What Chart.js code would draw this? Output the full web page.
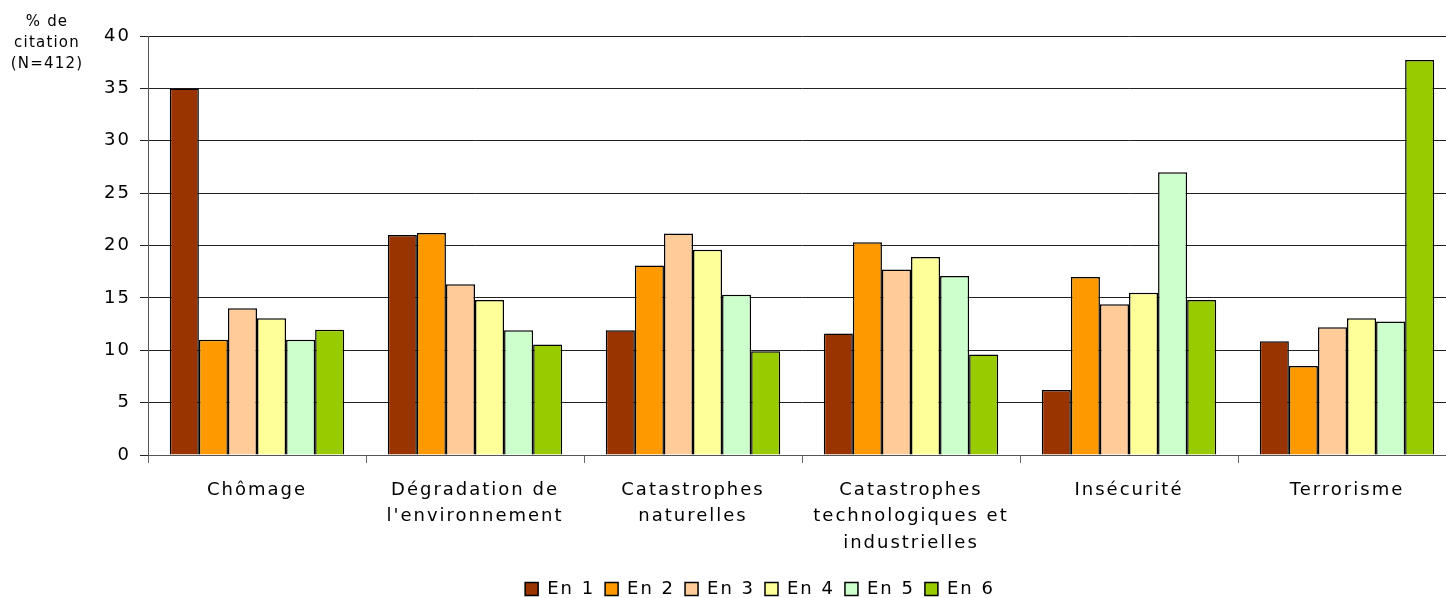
<!DOCTYPE html>
<html>
<head>
<meta charset="utf-8">
<script src="https://cdn.jsdelivr.net/npm/chart.js@4"></script>
<style>
  html, body { margin: 0; padding: 0; background: #fff; overflow: hidden; }
  #wrap { width: 1446px; height: 598px; overflow: hidden; }
</style>
</head>
<body>
<div id="wrap"><canvas id="myChart" width="1456" height="598"></canvas></div>
<script>
// Categories (multi-line labels)
const categories = [
    ['Chômage'],
    ['Dégradation de', "l'environnement"],
    ['Catastrophes', 'naturelles'],
    ['Catastrophes', 'technologiques et', 'industrielles'],
    ['Insécurité'],
    ['Terrorisme']
];

const seriesNames = ['En 1', 'En 2', 'En 3', 'En 4', 'En 5', 'En 6'];

// values per rank, one array per series (order of categories)
const en1 = [35, 21, 11.9, 11.6, 6.2, 10.85];
const en2 = [11, 21.2, 18.1, 20.3, 17, 8.5];
const en3 = [14, 16.3, 21.15, 17.7, 14.4, 12.2];
const en4 = [13.05, 14.8, 19.6, 18.9, 15.5, 13.05];
const en5 = [11, 11.9, 15.3, 17.1, 27, 12.75];
const en6 = [11.95, 10.55, 9.9, 9.6, 14.8, 37.7];

const yTicks = [0, 5, 10, 15, 20, 25, 30, 35, 40];
const axisTitle = ['% de', 'citation', '(N=412)'];

const colors = ['#993300', '#FF9900', '#FFCC99', '#FFFF99', '#CCFFCC', '#99CC00'];
const allSeries = [en1, en2, en3, en4, en5, en6];

Chart.defaults.font.family = '"DejaVu Sans", Verdana, sans-serif';
Chart.defaults.color = '#000';

// Excel-like wide text spacing + a few position tweaks
const spacingPlugin = {
    id: 'spacing',
    beforeUpdate(chart) { chart.ctx.letterSpacing = '2px'; },
    beforeDraw(chart) { chart.ctx.letterSpacing = '2px'; },
    afterLayout(chart) {
        // legend sits a bit right of canvas center and near the bottom
        chart.legend.left += 32;
        chart.legend.right += 32;
        chart.legend.top += 10;
        chart.legend.bottom += 10;
    },
    afterDraw(chart) {
        const ctx = chart.ctx;
        ctx.save();
        ctx.letterSpacing = '1.2px';
        ctx.font = '15px "DejaVu Sans", Verdana, sans-serif';
        ctx.fillStyle = '#000';
        ctx.textAlign = 'center';
        ctx.textBaseline = 'middle';
        axisTitle.forEach((t, i) => ctx.fillText(t, 47, 22 + i * 21));
        ctx.restore();
    }
};

const config = {
    type: 'bar',
    data: {
        labels: categories,
        datasets: allSeries.map((vals, i) => ({
            label: seriesNames[i],
            data: vals,
            backgroundColor: colors[i],
            borderColor: '#000',
            borderWidth: 1.5,
            categoryPercentage: 0.8,
            barPercentage: 1
        }))
    },
    options: {
        responsive: false,
        animation: false,
        layout: { padding: { top: 36, right: 0, left: 0, bottom: 0 } },
        plugins: {
            tooltip: { enabled: false },
            legend: {
                position: 'bottom',
                labels: {
                    boxWidth: 13,
                    boxHeight: 13,
                    padding: 10,
                    font: { size: 18 }
                }
            }
        },
        scales: {
            x: {
                grid: { drawOnChartArea: false, tickLength: 8, color: '#666' },
                border: { color: '#555' },
                ticks: {
                    maxRotation: 0,
                    autoSkip: false,
                    padding: 14,
                    font: { size: 18, lineHeight: 1.47 }
                },
                afterFit(scale) { scale.height = 105; }
            },
            y: {
                min: 0,
                max: 40,
                afterBuildTicks(scale) { scale.ticks = yTicks.map(v => ({ value: v })); },
                grid: { color: '#222', tickLength: 8 },
                border: { color: '#555' },
                ticks: { padding: 9, font: { size: 18 } },
                afterFit(scale) { scale.width = 148; }
            }
        }
    },
    plugins: [spacingPlugin]
};

const myChart = new Chart(document.getElementById('myChart'), config);
</script>
</body>
</html>
